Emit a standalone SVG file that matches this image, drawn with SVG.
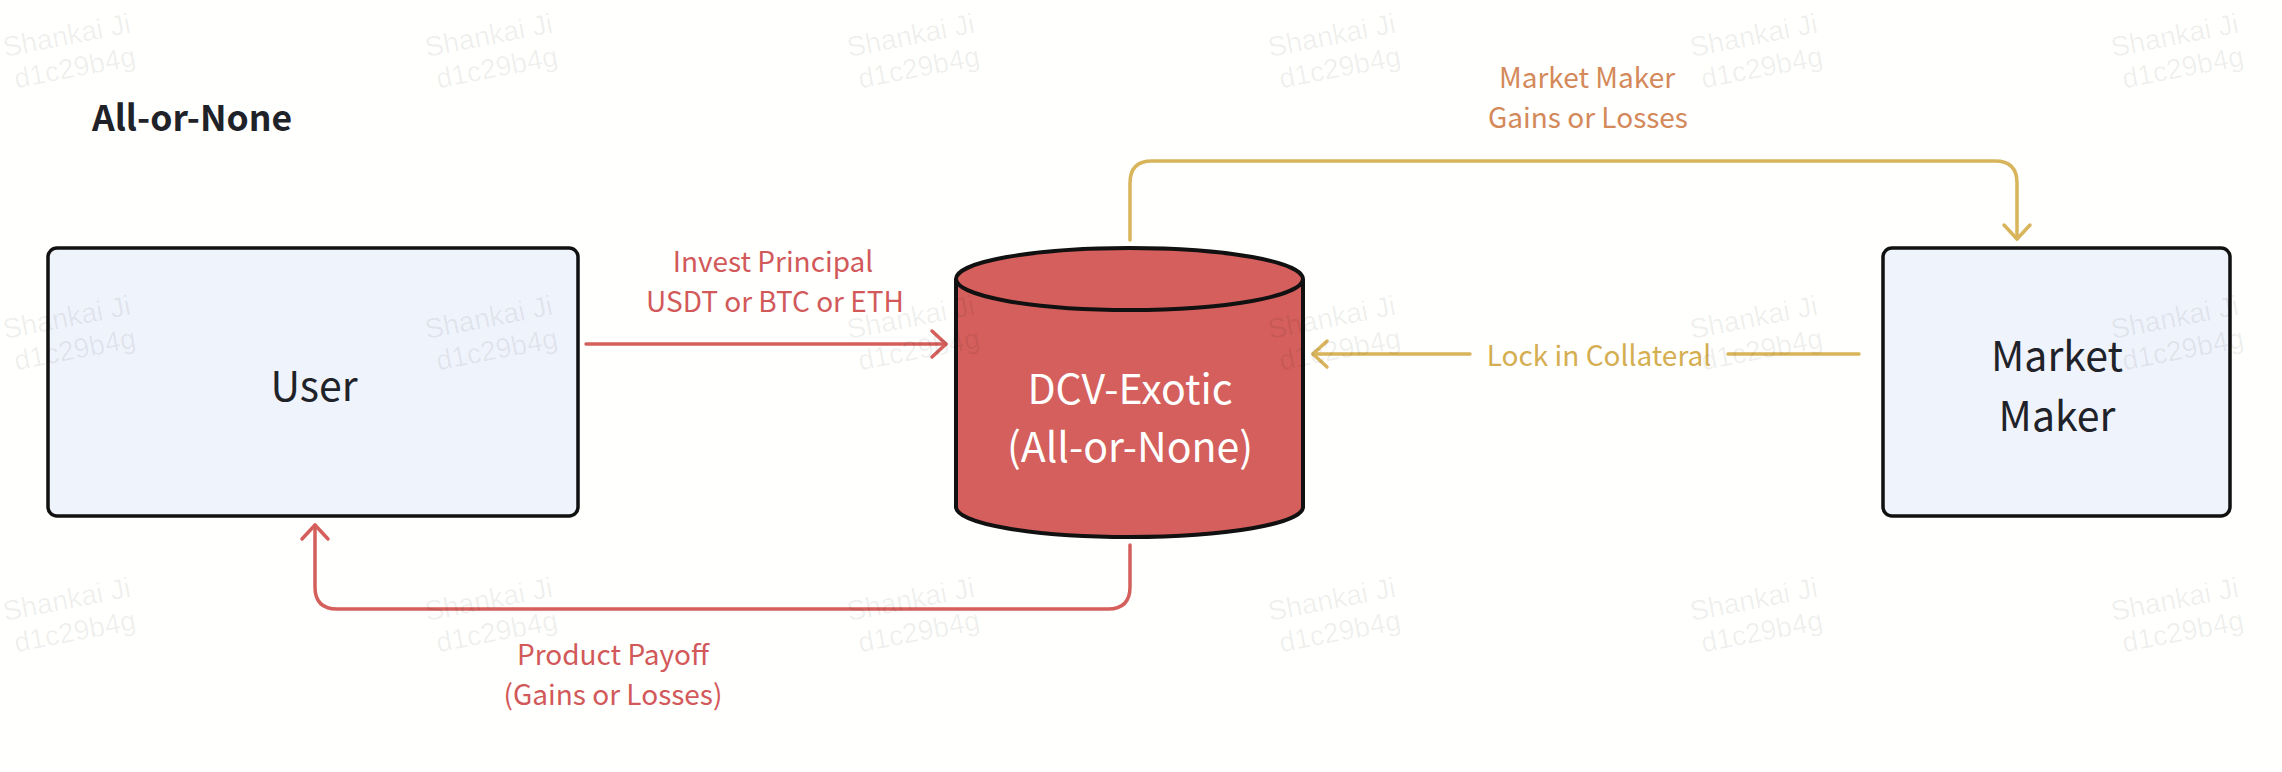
<svg xmlns="http://www.w3.org/2000/svg" xmlns:xlink="http://www.w3.org/1999/xlink" width="2282" height="772" viewBox="0 0 2282 772">
<style>
.t{font-family:"Noto Sans CJK SC","Liberation Sans",sans-serif;text-anchor:middle}
.node{fill:#eff3fb;stroke:#111;stroke-width:3.5}
.nl{font-size:41px;fill:#1f2329}
.el{font-size:28px}
.red{fill:#d2595a}
.gold{fill:#d4ae50}
.brown{fill:#d4895a}
.cr{fill:none;stroke:#d45f5b;stroke-width:3.5;stroke-linecap:round;stroke-linejoin:round}
.cg{fill:none;stroke:#d8b45a;stroke-width:3.5;stroke-linecap:round;stroke-linejoin:round}
.wm{font-family:"Liberation Sans",Arial,sans-serif;font-size:28px;fill:#000;fill-opacity:0.065}
</style>
<defs>
<marker id="ar" viewBox="-20 -16 24 32" refX="0" refY="0" markerWidth="24" markerHeight="32" markerUnits="userSpaceOnUse" orient="auto">
<path d="M-14,-13 L0,0 L-14,13" fill="none" stroke="#d45f5b" stroke-width="3.5" stroke-linecap="round" stroke-linejoin="round"/>
</marker>
<marker id="ag" viewBox="-20 -16 24 32" refX="0" refY="0" markerWidth="24" markerHeight="32" markerUnits="userSpaceOnUse" orient="auto">
<path d="M-14,-13 L0,0 L-14,13" fill="none" stroke="#d8b45a" stroke-width="3.5" stroke-linecap="round" stroke-linejoin="round"/>
</marker>
<g id="wmk" class="wm"><text x="0" y="0">Shankai Ji</text><text x="5" y="33">d1c29b4g</text></g>
</defs>
<rect width="2282" height="772" fill="#fffffe"/>

<g id="title"><text class="t" x="192" y="131" style="font-size:35.5px;font-weight:700;fill:#1f2329">All-or-None</text></g>

<g id="user"><rect class="node" x="48" y="248" width="530" height="268" rx="9"/><text class="t nl" x="314" y="401">User</text></g>

<g id="dcv">
<path d="M956,279 V507 A173.5,30 0 0 0 1303,507 V279" fill="#d45f5c" stroke="#111" stroke-width="4"/>
<ellipse cx="1129.5" cy="279" rx="173.5" ry="31" fill="#d45f5c" stroke="#111" stroke-width="4"/>
<text class="t nl" x="1130" y="404" style="fill:#fff">DCV-Exotic</text>
<text class="t nl" x="1130" y="462" style="fill:#fff">(All-or-None)</text>
</g>

<g id="mm"><rect class="node" x="1883" y="248" width="347" height="268" rx="9"/><text class="t nl" x="2057" y="371">Market</text><text class="t nl" x="2057" y="431">Maker</text></g>

<g id="connectors">
<path class="cr" d="M586,344 H946" marker-end="url(#ar)"/>
<path class="cr" d="M1130,545 V587 Q1130,609 1108,609 H337 Q315,609 315,587 V525" marker-end="url(#ar)"/>
<path class="cg" d="M1130,240 V183 Q1130,161 1152,161 H1995 Q2017,161 2017,183 V239" marker-end="url(#ag)"/>
<path class="cg" d="M1859,354 H1728"/>
<path class="cg" d="M1470,354 H1313" marker-end="url(#ag)"/>
</g>

<g id="labels">
<text class="t el red" x="773" y="272">Invest Principal</text>
<text class="t el red" x="775" y="312">USDT or BTC or ETH</text>
<text class="t el brown" x="1587" y="88">Market Maker</text>
<text class="t el brown" x="1588" y="128">Gains or Losses</text>
<text class="t el gold" x="1599" y="366">Lock in Collateral</text>
<text class="t el red" x="613" y="665">Product Payoff</text>
<text class="t el red" x="613" y="705">(Gains or Losses)</text>
</g>

<g id="watermarks">
<use xlink:href="#wmk" transform="translate(5,57) rotate(-11)"/>
<use xlink:href="#wmk" transform="translate(427,57) rotate(-11)"/>
<use xlink:href="#wmk" transform="translate(849,57) rotate(-11)"/>
<use xlink:href="#wmk" transform="translate(1270,57) rotate(-11)"/>
<use xlink:href="#wmk" transform="translate(1692,57) rotate(-11)"/>
<use xlink:href="#wmk" transform="translate(2113,57) rotate(-11)"/>
<use xlink:href="#wmk" transform="translate(5,339) rotate(-11)"/>
<use xlink:href="#wmk" transform="translate(427,339) rotate(-11)"/>
<use xlink:href="#wmk" transform="translate(849,339) rotate(-11)"/>
<use xlink:href="#wmk" transform="translate(1270,339) rotate(-11)"/>
<use xlink:href="#wmk" transform="translate(1692,339) rotate(-11)"/>
<use xlink:href="#wmk" transform="translate(2113,339) rotate(-11)"/>
<use xlink:href="#wmk" transform="translate(5,621) rotate(-11)"/>
<use xlink:href="#wmk" transform="translate(427,621) rotate(-11)"/>
<use xlink:href="#wmk" transform="translate(849,621) rotate(-11)"/>
<use xlink:href="#wmk" transform="translate(1270,621) rotate(-11)"/>
<use xlink:href="#wmk" transform="translate(1692,621) rotate(-11)"/>
<use xlink:href="#wmk" transform="translate(2113,621) rotate(-11)"/>
</g>
</svg>
